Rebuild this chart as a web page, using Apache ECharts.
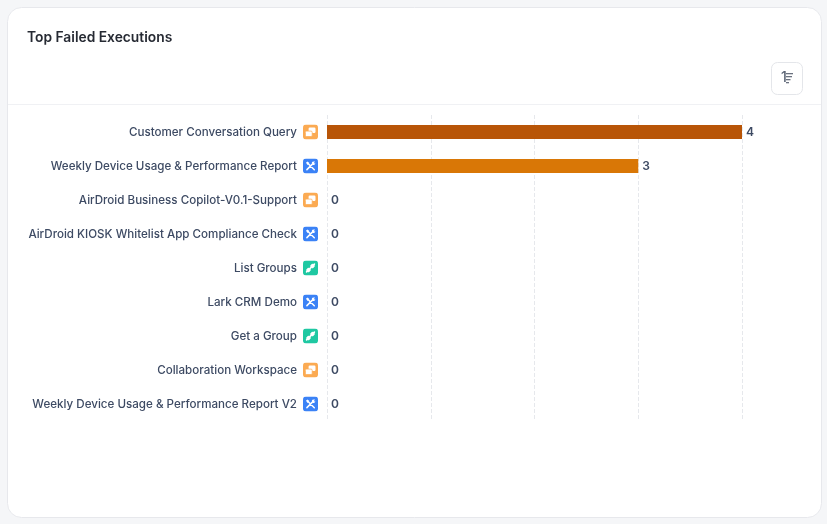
<!DOCTYPE html>
<html>
<head>
<meta charset="utf-8">
<title>Top Failed Executions</title>
<script src="https://cdn.jsdelivr.net/npm/echarts@6/dist/echarts.min.js"></script>
<style>
  html, body { margin: 0; padding: 0; background: #f5f6f8; }
  #chart { width: 827px; height: 524px; }
</style>
</head>
<body>
<div id="chart"></div>
<script>
const categories = [
  'Customer Conversation Query',
  'Weekly Device Usage & Performance Report',
  'AirDroid Business Copilot-V0.1-Support',
  'AirDroid KIOSK Whitelist App Compliance Check',
  'List Groups',
  'Lark CRM Demo',
  'Get a Group',
  'Collaboration Workspace',
  'Weekly Device Usage & Performance Report V2'
];
const failedCounts = [4, 3, 0, 0, 0, 0, 0, 0, 0];
const appTypes = ['chat', 'tool', 'chat', 'tool', 'link', 'tool', 'link', 'chat', 'tool'];
const barColors = ['#b85507', '#d97706', '#d97706', '#d97706', '#d97706', '#d97706', '#d97706', '#d97706', '#d97706'];
const valueTicks = [0, 4];

const FONT = 'Inter, "Noto Sans", sans-serif';

// App-type badges, drawn beside each category name
function badge(bg, glyph) {
  const svg = '<svg xmlns="http://www.w3.org/2000/svg" width="60" height="60" viewBox="0 0 15 15">' +
    '<rect width="15" height="15" rx="3.2" fill="' + bg + '"/>' + glyph + '</svg>';
  return 'data:image/svg+xml;charset=utf-8,' + encodeURIComponent(svg);
}
const badges = {
  chat: badge('#fbaa52',
    '<rect x="5.6" y="3" width="6.9" height="5.4" rx="1.2" fill="#fff"/>' +
    '<rect x="2.4" y="6.6" width="6.8" height="5.4" rx="1.2" fill="#fff" stroke="#fbaa52" stroke-width=".7"/>'),
  tool: badge('#3b82f6',
    '<path d="M5 5 L11.3 11.3 M10.4 4.6 L3.9 11.1" stroke="#fff" stroke-width="1.5" stroke-linecap="round"/>' +
    '<path d="M3 4.3 L4.3 3 L6.4 4.6 L4.6 6.4Z" fill="#fff"/>' +
    '<path d="M8.8 3.6 C10 2.6 11.6 2.9 12 3.2 L10.5 4.7 L11 5.2 L12.3 4.2 C12.4 5.6 11.2 7 9.9 6.4Z" fill="#fff"/>'),
  link: badge('#1fc8a2',
    '<path d="M3.6 11.4 L11.4 3.6" stroke="#fff" stroke-width="1.6" stroke-linecap="round"/>' +
    '<rect x="3.6" y="7.6" width="3.8" height="3.8" rx="1" fill="#fff" transform="rotate(45 5.5 9.5)"/>' +
    '<rect x="7.6" y="3.6" width="3.8" height="3.8" rx="1" fill="#fff" transform="rotate(45 9.5 5.5)"/>')
};

const richStyles = {
  name: { color: '#3d4a63', fontFamily: FONT, fontSize: 11.6, fontWeight: 500, padding: [2, 6, 0, 0] }
};
Object.keys(badges).forEach(function (k) {
  richStyles[k] = { width: 15, height: 15, backgroundColor: { image: badges[k] } };
});

const chart = echarts.init(document.getElementById('chart'), null, { renderer: 'canvas' });

chart.setOption({
  animation: false,
  backgroundColor: 'transparent',
  title: {
    text: 'Top Failed Executions',
    left: 27,
    top: 30,
    padding: 0,
    textStyle: { color: '#262a33', fontFamily: FONT, fontSize: 13.8, fontWeight: 600, lineHeight: 16 }
  },
  grid: { left: 327, right: 85, top: 115, bottom: 103, containLabel: false },
  xAxis: {
    type: 'value',
    min: valueTicks[0],
    max: valueTicks[1],
    interval: 1,
    axisLabel: { show: false },
    axisLine: { show: false },
    axisTick: { show: false },
    splitLine: { show: true, lineStyle: { color: '#e6e8ec', type: 'dashed', width: 1 } }
  },
  yAxis: {
    type: 'category',
    inverse: true,
    data: categories,
    axisLine: { show: false },
    axisTick: { show: false },
    axisLabel: {
      margin: 9,
      rich: richStyles,
      formatter: function (value, i) {
        return '{name|' + value + '}{' + appTypes[i] + '|}';
      }
    }
  },
  series: [{
    type: 'bar',
    barWidth: 14,
    data: failedCounts.map(function (v, i) {
      return { value: v, itemStyle: { color: barColors[i] } };
    }),
    label: {
      show: true,
      position: 'right',
      distance: 4,
      offset: [0, 0.5],
      color: '#3d4a63',
      fontFamily: FONT,
      fontSize: 12,
      fontWeight: 600
    }
  }],
  graphic: [
    // Card surface behind the chart
    { type: 'rect', z: -10, silent: true,
      shape: { x: 7.5, y: 7.5, width: 814, height: 510, r: 14 },
      style: { fill: '#ffffff', stroke: '#e7e8ec', lineWidth: 1 } },
    // Header divider
    { type: 'rect', z: -9, silent: true,
      shape: { x: 8, y: 104, width: 813, height: 1 },
      style: { fill: '#f0f1f4' } },
    // Sort button
    { type: 'rect', z: -8, silent: true,
      shape: { x: 771.5, y: 62.5, width: 31, height: 32, r: 6 },
      style: { fill: '#ffffff', stroke: '#e4e6ea', lineWidth: 1 } },
    { type: 'text', z: -7, silent: true, x: 781, y: 71,
      style: { text: '1', fill: '#5b6475', fontFamily: FONT, fontSize: 14, fontWeight: 500 } },
    { type: 'rect', z: -7, silent: true, shape: { x: 786, y: 73, width: 7, height: 1.3 }, style: { fill: '#6b7280' } },
    { type: 'rect', z: -7, silent: true, shape: { x: 786, y: 76, width: 6, height: 1.3 }, style: { fill: '#6b7280' } },
    { type: 'rect', z: -7, silent: true, shape: { x: 786, y: 79, width: 4.5, height: 1.3 }, style: { fill: '#6b7280' } },
    { type: 'rect', z: -7, silent: true, shape: { x: 786, y: 82, width: 3, height: 1.3 }, style: { fill: '#6b7280' } }
  ]
});
</script>
</body>
</html>
